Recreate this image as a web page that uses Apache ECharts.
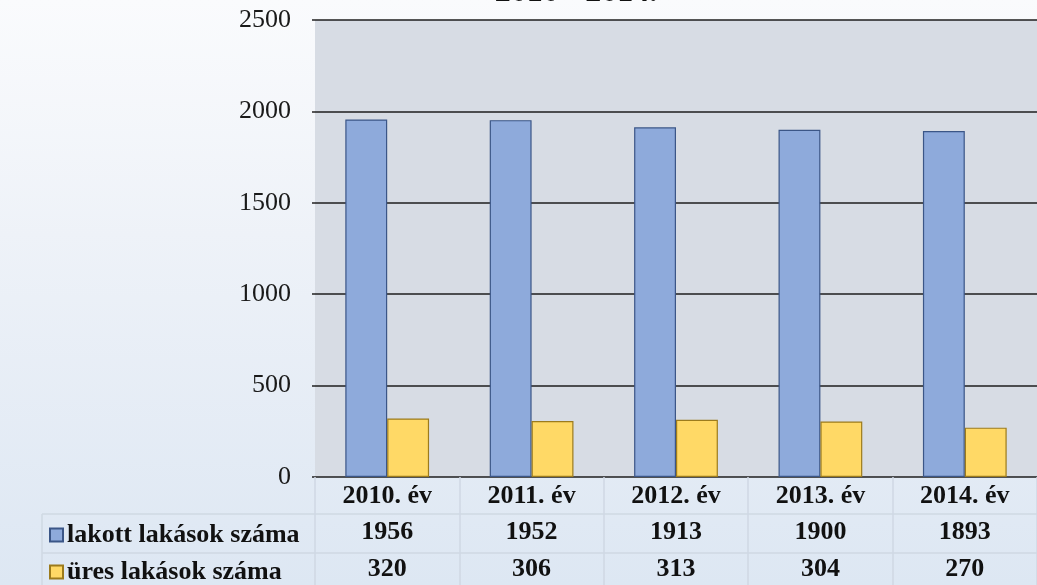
<!DOCTYPE html>
<html>
<head>
<meta charset="utf-8">
<script src="https://cdn.jsdelivr.net/npm/echarts@6/dist/echarts.min.js"></script>
<style>
  html, body { margin: 0; padding: 0; }
  body {
    width: 1037px; height: 585px; overflow: hidden;
    background: linear-gradient(to bottom, #fafbfd 0%, #eef2f8 40%, #dde7f3 100%);
  }
  #chart { width: 1037px; height: 585px; }
</style>
</head>
<body>
<div id="chart"></div>
<script>
// adatok
const years = ['2010. év', '2011. év', '2012. év', '2013. év', '2014. év'];
const lakott = [1956, 1952, 1913, 1900, 1893];
const ures = [320, 306, 313, 304, 270];
const seriesNames = ['lakott lakások száma', 'üres lakások száma'];
const yTicks = { min: 0, max: 2500, interval: 500 };

const serif = '"Liberation Serif", "Times New Roman", serif';
const tableLine = '#cfd8e3';
const tableFont = 26;

const chart = echarts.init(document.getElementById('chart'));

// egy jelmagyarázat-sor a táblázat bal oszlopában
function legendRow(name, top) {
    return {
        left: 49,
        top: top,
        itemWidth: 13,
        itemHeight: 13,
        itemGap: 0,
        icon: 'rect',
        selectedMode: false,
        padding: 0,
        textStyle: {
            fontFamily: serif,
            fontSize: tableFont,
            fontWeight: 'bold',
            color: '#111',
            padding: [0, 0, 0, -1]
        },
        data: [name]
    };
}

const option = {
    animation: false,
    textStyle: { fontFamily: serif },
    grid: {
        left: 315,
        right: 0,
        top: 20,
        bottom: 108,
        show: true,
        backgroundColor: '#d7dce4',
        borderWidth: 0
    },
    legend: [
        legendRow(seriesNames[0], 522),
        legendRow(seriesNames[1], 559)
    ],
    xAxis: {
        type: 'category',
        data: years,
        axisLine: { show: false },
        axisTick: {
            show: true,
            length: 120,
            lineStyle: { color: tableLine, width: 1.5 }
        },
        axisLabel: {
            margin: 2,
            interval: 0,
            formatter: (val, i) => `{h|${val}}\n{v|${lakott[i]}}\n{v|${ures[i]}}`,
            rich: {
                h: { fontFamily: serif, fontSize: tableFont, fontWeight: 'bold', color: '#111', lineHeight: 35 },
                v: { fontFamily: serif, fontSize: tableFont, fontWeight: 'bold', color: '#111', lineHeight: 37 }
            }
        }
    },
    yAxis: {
        type: 'value',
        min: yTicks.min,
        max: yTicks.max,
        interval: yTicks.interval,
        axisLine: { show: false },
        axisTick: { show: true, length: 3, lineStyle: { color: '#222', width: 1.5 } },
        axisLabel: {
            fontFamily: serif,
            fontSize: 26,
            color: '#1a1a1a',
            margin: 24,
            formatter: (v) => String(v)
        },
        splitLine: {
            lineStyle: { color: '#1e1e1e', width: 1.5 }
        }
    },
    series: [
        {
            name: seriesNames[0],
            type: 'bar',
            data: lakott,
            barWidth: '29%',
            barGap: '0%',
            itemStyle: { color: '#8eaadb', borderColor: '#3b5687', borderWidth: 1.2 }
        },
        {
            name: seriesNames[1],
            type: 'bar',
            data: ures,
            barWidth: '29%',
            itemStyle: { color: '#ffd966', borderColor: '#9c7b1c', borderWidth: 1.2 }
        }
    ],
    graphic: [
        {
            type: 'text',
            x: 576,
            y: 9,
            style: {
                text: '2010 - 2014.',
                fontFamily: serif,
                fontSize: 32,
                fontWeight: 'bold',
                fill: '#111',
                textAlign: 'center',
                textVerticalAlign: 'bottom'
            }
        },
        // táblázat vonalai
        { type: 'line', shape: { x1: 42, y1: 514, x2: 1037, y2: 514 }, style: { stroke: tableLine, lineWidth: 1.5 } },
        { type: 'line', shape: { x1: 42, y1: 553, x2: 1037, y2: 553 }, style: { stroke: tableLine, lineWidth: 1.5 } },
        { type: 'line', shape: { x1: 42, y1: 514, x2: 42, y2: 585 }, style: { stroke: tableLine, lineWidth: 1.5 } }
    ]
};

chart.setOption(option);
</script>
</body>
</html>
